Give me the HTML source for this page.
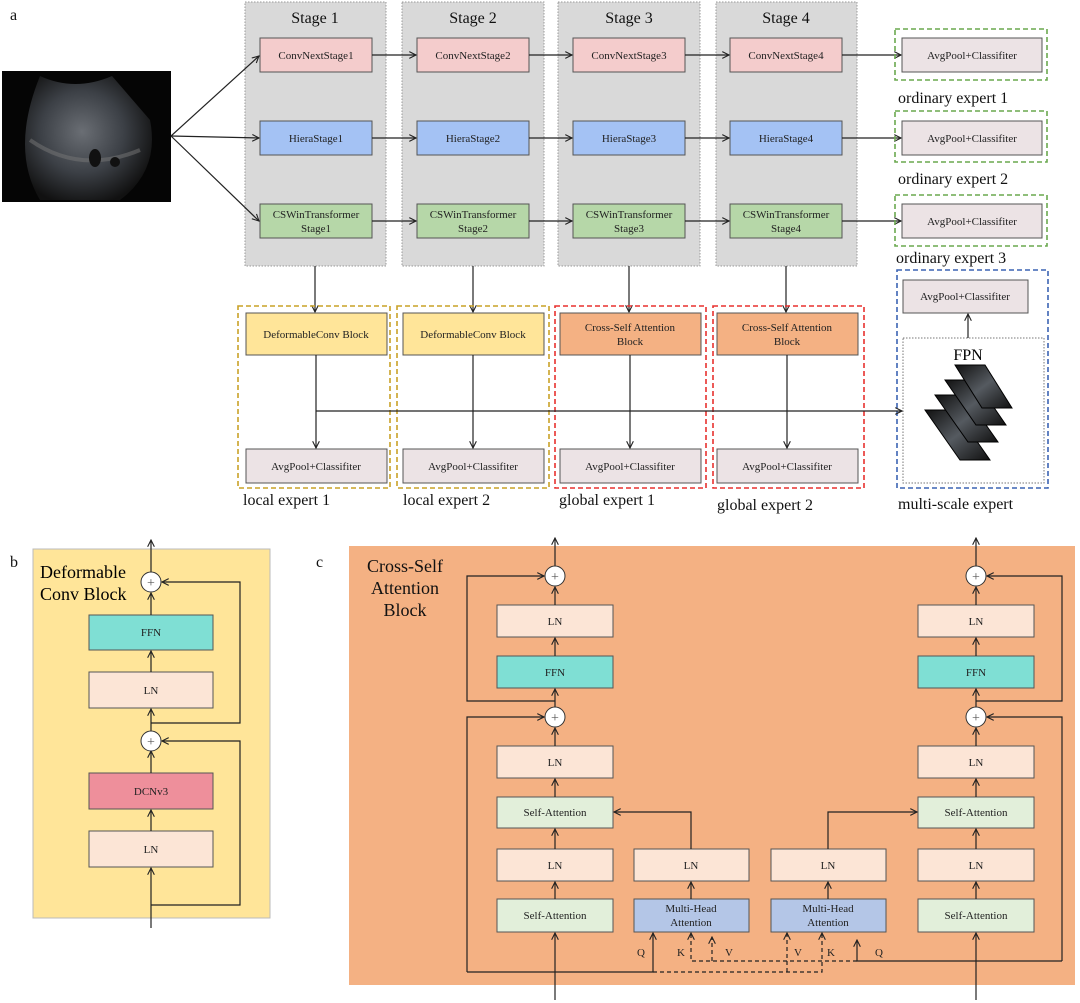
<!DOCTYPE html>
<html><head><meta charset="utf-8"><style>
html,body{margin:0;padding:0;background:#fff;}
svg{display:block;font-family:"Liberation Serif",serif;}
</style></head><body>
<svg width="1080" height="1003" viewBox="0 0 1080 1003" xmlns="http://www.w3.org/2000/svg">
<defs>
<marker id="a" viewBox="0 0 10 10" refX="9" refY="5" markerWidth="7" markerHeight="7" orient="auto-start-reverse"><path d="M1 1 L9 5 L1 9" fill="none" stroke="#222" stroke-width="1.3"/></marker>
<radialGradient id="us" cx="0.45" cy="0.45" r="0.6"><stop offset="0" stop-color="#6a6e74"/><stop offset="0.55" stop-color="#3c4046"/><stop offset="1" stop-color="#111"/></radialGradient>
<linearGradient id="fp" x1="0" y1="0" x2="1" y2="1"><stop offset="0" stop-color="#111"/><stop offset="0.5" stop-color="#555a60"/><stop offset="1" stop-color="#111"/></linearGradient>
</defs>
<g font-size="16" fill="#111">
<text x="10" y="20">a</text>
<text x="10" y="567">b</text>
<text x="316" y="567">c</text>
</g>
<!-- ultrasound -->
<rect x="2" y="71" width="169" height="131" fill="#050505"/>
<path d="M40 76 Q75 92 112 76 L150 120 Q160 170 120 200 L40 200 Q10 150 40 76 Z" fill="url(#us)"/>
<path d="M30 140 Q80 175 140 150" stroke="#777" stroke-width="4" fill="none" opacity="0.5"/>
<ellipse cx="95" cy="158" rx="6" ry="9" fill="#111"/><ellipse cx="115" cy="162" rx="5" ry="5" fill="#111"/>
<!-- stage backgrounds -->
<g stroke="#999" stroke-dasharray="1.5 1.5" fill="#d9d9d9">
<rect x="245" y="2" width="141" height="264"/><rect x="402" y="2" width="142" height="264"/><rect x="558" y="2" width="142" height="264"/><rect x="716" y="2" width="141" height="264"/>
</g>
<g stroke="#222" stroke-width="1.2" fill="none" marker-end="url(#a)">
<line x1="171" y1="136" x2="259" y2="56"/><line x1="171" y1="136" x2="259" y2="138"/><line x1="171" y1="136" x2="259" y2="221"/>
</g>
<g font-size="16" text-anchor="middle" fill="#111"><text x="315" y="23">Stage 1</text><text x="473" y="23">Stage 2</text><text x="629" y="23">Stage 3</text><text x="786" y="23">Stage 4</text></g>
<g stroke="#555" stroke-width="1">
<g fill="#f4cccc"><rect x="260" y="38" width="112" height="34"/><rect x="417" y="38" width="112" height="34"/><rect x="573" y="38" width="112" height="34"/><rect x="730" y="38" width="112" height="34"/></g>
<g fill="#a4c2f4"><rect x="260" y="121" width="112" height="34"/><rect x="417" y="121" width="112" height="34"/><rect x="573" y="121" width="112" height="34"/><rect x="730" y="121" width="112" height="34"/></g>
<g fill="#b6d7a8"><rect x="260" y="204" width="112" height="34"/><rect x="417" y="204" width="112" height="34"/><rect x="573" y="204" width="112" height="34"/><rect x="730" y="204" width="112" height="34"/></g>
</g>
<g font-size="11" text-anchor="middle" fill="#222">
<text x="316" y="59">ConvNextStage1</text><text x="473" y="59">ConvNextStage2</text><text x="629" y="59">ConvNextStage3</text><text x="786" y="59">ConvNextStage4</text>
<text x="316" y="142">HieraStage1</text><text x="473" y="142">HieraStage2</text><text x="629" y="142">HieraStage3</text><text x="786" y="142">HieraStage4</text>
<text x="316" y="218">CSWinTransformer</text><text x="316" y="232">Stage1</text>
<text x="473" y="218">CSWinTransformer</text><text x="473" y="232">Stage2</text>
<text x="629" y="218">CSWinTransformer</text><text x="629" y="232">Stage3</text>
<text x="786" y="218">CSWinTransformer</text><text x="786" y="232">Stage4</text>
</g>
<g stroke="#222" stroke-width="1.2" fill="none" marker-end="url(#a)">
<line x1="372" y1="55" x2="416" y2="55"/><line x1="529" y1="55" x2="572" y2="55"/><line x1="685" y1="55" x2="729" y2="55"/><line x1="842" y1="55" x2="901" y2="55"/>
<line x1="372" y1="138" x2="416" y2="138"/><line x1="529" y1="138" x2="572" y2="138"/><line x1="685" y1="138" x2="729" y2="138"/><line x1="842" y1="138" x2="901" y2="138"/>
<line x1="372" y1="221" x2="416" y2="221"/><line x1="529" y1="221" x2="572" y2="221"/><line x1="685" y1="221" x2="729" y2="221"/><line x1="842" y1="221" x2="901" y2="221"/>
<line x1="315" y1="266" x2="315" y2="312"/><line x1="473" y1="266" x2="473" y2="312"/><line x1="629" y1="266" x2="629" y2="312"/><line x1="786" y1="266" x2="786" y2="312"/>
</g>
<!-- ordinary experts -->
<g fill="none" stroke="#6aa84f" stroke-width="1.6" stroke-dasharray="5 3">
<rect x="895" y="29" width="152" height="51"/><rect x="895" y="111" width="152" height="51"/><rect x="895" y="195" width="152" height="51"/>
</g>
<g fill="#ece3e5" stroke="#555">
<rect x="902" y="38" width="140" height="34"/><rect x="902" y="121" width="140" height="34"/><rect x="902" y="204" width="140" height="34"/>
<rect x="903" y="280" width="125" height="33"/>
<rect x="246" y="449" width="141" height="34"/><rect x="403" y="449" width="141" height="34"/><rect x="560" y="449" width="141" height="34"/><rect x="717" y="449" width="141" height="34"/>
</g>
<g font-size="11" text-anchor="middle" fill="#222">
<text x="972" y="59">AvgPool+Classifiter</text><text x="972" y="142">AvgPool+Classifiter</text><text x="972" y="225">AvgPool+Classifiter</text>
<text x="965" y="300">AvgPool+Classifiter</text>
<text x="316" y="470">AvgPool+Classifiter</text><text x="473" y="470">AvgPool+Classifiter</text><text x="630" y="470">AvgPool+Classifiter</text><text x="787" y="470">AvgPool+Classifiter</text>
</g>
<g font-size="16" fill="#111">
<text x="898" y="103">ordinary expert 1</text><text x="898" y="184">ordinary expert 2</text><text x="896" y="263">ordinary expert 3</text>
<text x="243" y="505">local expert 1</text><text x="403" y="505">local expert 2</text><text x="559" y="505">global expert 1</text><text x="717" y="510">global expert 2</text><text x="898" y="509">multi-scale expert</text>
</g>
<!-- lower expert boxes -->
<g fill="none" stroke-width="1.6" stroke-dasharray="5 3">
<rect x="238" y="306" width="152" height="182" stroke="#c9a227"/><rect x="397" y="306" width="152" height="182" stroke="#c9a227"/>
<rect x="555" y="306" width="151" height="182" stroke="#e8312f"/><rect x="713" y="306" width="151" height="182" stroke="#e8312f"/>
<rect x="897" y="270" width="151" height="218" stroke="#3c64b4"/>
</g>
<g stroke="#555">
<rect x="246" y="313" width="141" height="42" fill="#ffe599"/><rect x="403" y="313" width="141" height="42" fill="#ffe599"/>
<rect x="560" y="313" width="141" height="42" fill="#f4b183"/><rect x="717" y="313" width="141" height="42" fill="#f4b183"/>
</g>
<rect x="903" y="338" width="141" height="145" fill="#fff" stroke="#777" stroke-dasharray="1.5 1.5"/>
<g font-size="11" text-anchor="middle" fill="#222">
<text x="316" y="338">DeformableConv Block</text><text x="473" y="338">DeformableConv Block</text>
<text x="630" y="331">Cross-Self Attention</text><text x="630" y="345">Block</text>
<text x="787" y="331">Cross-Self Attention</text><text x="787" y="345">Block</text>
</g>
<text x="968" y="360" font-size="16" text-anchor="middle">FPN</text>
<g stroke="#000" stroke-width="1">
<polygon points="925,410 955,410 990,460 960,460" fill="url(#fp)"/>
<polygon points="935,395 965,395 998,442 968,442" fill="url(#fp)"/>
<polygon points="945,380 975,380 1006,425 976,425" fill="url(#fp)"/>
<polygon points="955,365 985,365 1012,408 982,408" fill="url(#fp)"/>
</g>
<g stroke="#222" stroke-width="1.2" fill="none" marker-end="url(#a)">
<line x1="316" y1="355" x2="316" y2="448"/><line x1="473" y1="355" x2="473" y2="448"/><line x1="630" y1="355" x2="630" y2="448"/><line x1="787" y1="355" x2="787" y2="448"/>
<line x1="316" y1="411" x2="902" y2="411"/>
<line x1="968" y1="338" x2="968" y2="314"/>
</g>
<!-- part b -->
<rect x="33" y="549" width="237" height="369" fill="#ffe599" stroke="#bbb"/>
<text x="40" y="578" font-size="18">Deformable</text><text x="40" y="600" font-size="18">Conv Block</text>
<g stroke="#555">
<rect x="89" y="615" width="124" height="35" fill="#7fdfd4"/>
<rect x="89" y="672" width="124" height="36" fill="#fce5d6"/>
<rect x="89" y="773" width="124" height="36" fill="#ee8f9b"/>
<rect x="89" y="831" width="124" height="36" fill="#fce5d6"/>
</g>
<g font-size="11" text-anchor="middle" fill="#222"><text x="151" y="636">FFN</text><text x="151" y="694">LN</text><text x="151" y="795">DCNv3</text><text x="151" y="853">LN</text></g>
<g stroke="#222" stroke-width="1.2" fill="none">
<g marker-end="url(#a)">
<line x1="151" y1="928" x2="151" y2="868"/><line x1="151" y1="831" x2="151" y2="810"/><line x1="151" y1="773" x2="151" y2="751"/>
<line x1="151" y1="731" x2="151" y2="709"/><line x1="151" y1="672" x2="151" y2="651"/><line x1="151" y1="615" x2="151" y2="593"/>
<line x1="151" y1="572" x2="151" y2="540"/>
<polyline points="151,905 240,905 240,741 162,741"/>
<polyline points="151,723 240,723 240,582 162,582"/>
</g>
</g>
<g fill="#fff" stroke="#333"><circle cx="151" cy="582" r="10"/><circle cx="151" cy="741" r="10"/></g>
<g font-size="14" text-anchor="middle" fill="#555"><text x="151" y="587">+</text><text x="151" y="746">+</text></g>
<!-- part c -->
<rect x="349" y="546" width="726" height="439" fill="#f4b183"/>
<g font-size="18" text-anchor="middle" fill="#111"><text x="405" y="572">Cross-Self</text><text x="405" y="594">Attention</text><text x="405" y="616">Block</text></g>
<g stroke="#555">
<g fill="#fce5d6">
<rect x="497" y="605" width="116" height="32"/><rect x="918" y="605" width="116" height="32"/>
<rect x="497" y="746" width="116" height="32"/><rect x="918" y="746" width="116" height="32"/>
<rect x="497" y="849" width="116" height="32"/><rect x="634" y="849" width="115" height="32"/><rect x="771" y="849" width="115" height="32"/><rect x="918" y="849" width="116" height="32"/>
</g>
<g fill="#7fdfd4"><rect x="497" y="656" width="116" height="32"/><rect x="918" y="656" width="116" height="32"/></g>
<g fill="#e2efda"><rect x="497" y="797" width="116" height="31"/><rect x="918" y="797" width="116" height="31"/><rect x="497" y="899" width="116" height="33"/><rect x="918" y="899" width="116" height="33"/></g>
<g fill="#b4c6e7"><rect x="634" y="899" width="115" height="33"/><rect x="771" y="899" width="115" height="33"/></g>
</g>
<g font-size="11" text-anchor="middle" fill="#222">
<text x="555" y="625">LN</text><text x="976" y="625">LN</text>
<text x="555" y="676">FFN</text><text x="976" y="676">FFN</text>
<text x="555" y="766">LN</text><text x="976" y="766">LN</text>
<text x="555" y="816">Self-Attention</text><text x="976" y="816">Self-Attention</text>
<text x="555" y="869">LN</text><text x="691" y="869">LN</text><text x="828" y="869">LN</text><text x="976" y="869">LN</text>
<text x="555" y="919">Self-Attention</text><text x="976" y="919">Self-Attention</text>
<text x="691" y="912">Multi-Head</text><text x="691" y="926">Attention</text>
<text x="828" y="912">Multi-Head</text><text x="828" y="926">Attention</text>
<text x="641" y="956">Q</text><text x="681" y="956">K</text><text x="729" y="956">V</text><text x="798" y="956">V</text><text x="831" y="956">K</text><text x="879" y="956">Q</text>
</g>
<g stroke="#222" stroke-width="1.2" fill="none">
<g marker-end="url(#a)">
<line x1="555" y1="1000" x2="555" y2="933"/><line x1="976" y1="1000" x2="976" y2="933"/>
<line x1="555" y1="899" x2="555" y2="882"/><line x1="976" y1="899" x2="976" y2="882"/>
<line x1="555" y1="849" x2="555" y2="829"/><line x1="976" y1="849" x2="976" y2="829"/>
<line x1="555" y1="797" x2="555" y2="779"/><line x1="976" y1="797" x2="976" y2="779"/>
<line x1="555" y1="746" x2="555" y2="728"/><line x1="976" y1="746" x2="976" y2="728"/>
<line x1="555" y1="707" x2="555" y2="689"/><line x1="976" y1="707" x2="976" y2="689"/>
<line x1="555" y1="656" x2="555" y2="638"/><line x1="976" y1="656" x2="976" y2="638"/>
<line x1="555" y1="605" x2="555" y2="587"/><line x1="976" y1="605" x2="976" y2="587"/>
<line x1="555" y1="566" x2="555" y2="538"/><line x1="976" y1="566" x2="976" y2="538"/>
<line x1="691" y1="899" x2="691" y2="882"/><line x1="828" y1="899" x2="828" y2="882"/>
<polyline points="691,849 691,812 614,812"/><polyline points="828,849 828,812 917,812"/>
<polyline points="555,701 467,701 467,576 544,576"/><polyline points="976,701 1062,701 1062,576 987,576"/>
<polyline points="467,972 467,717 544,717"/><polyline points="1062,961 1062,717 987,717"/>
<polyline points="467,972 653,972 653,933"/>
<polyline points="1062,961 857,961 857,940"/>
</g>
<g stroke-dasharray="4 3" marker-end="url(#a)">
<polyline points="653,972 822,972 822,933"/>
<line x1="787" y1="972" x2="787" y2="933"/>
<polyline points="857,961 691,961 691,933"/>
<line x1="712" y1="961" x2="712" y2="937"/>
</g>
</g>
<g fill="#fff" stroke="#333"><circle cx="555" cy="576" r="10"/><circle cx="555" cy="717" r="10"/><circle cx="976" cy="576" r="10"/><circle cx="976" cy="717" r="10"/></g>
<g font-size="14" text-anchor="middle" fill="#555"><text x="555" y="581">+</text><text x="555" y="722">+</text><text x="976" y="581">+</text><text x="976" y="722">+</text></g>
</svg>
</body></html>
